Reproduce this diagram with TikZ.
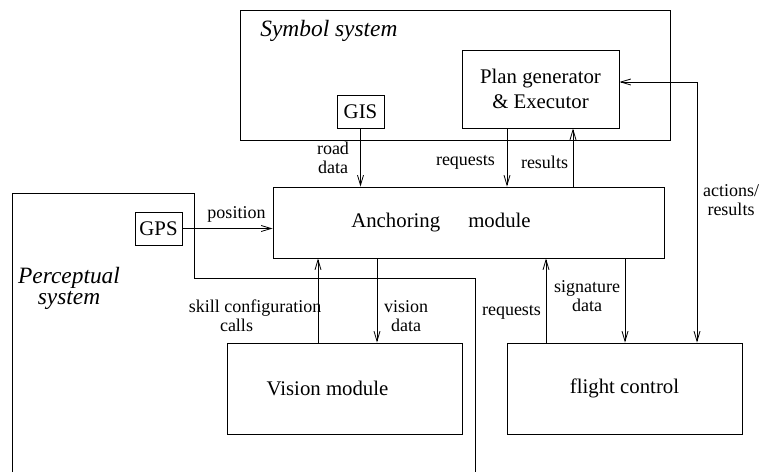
\documentclass[tikz,border=0pt]{standalone}
\usepackage{fontspec}
\setmainfont{Liberation Serif}
\usetikzlibrary{arrows.meta}

\begin{document}
\begin{tikzpicture}[
    x=0.5pt, y=-0.5pt,
    module/.style={
      rectangle, draw, line width=0.45pt, inner sep=1pt, align=center,
      font=\fontsize{10.4}{12.5}\selectfont
    },
    small/.style={module, minimum width=23.5pt, minimum height=16.5pt},
    big/.style={module, minimum width=117.5pt, minimum height=45.5pt},
    system/.style={
      inner sep=0pt, align=center, font=\fontsize{11.7}{10.5}\selectfont\itshape
    },
    lbl/.style={inner sep=0pt, align=center, font=\fontsize{9}{9.5}\selectfont},
    arrow/.style={-{Straight Barb[length=5pt,width=3pt]}, line width=0.4pt},
    twoway/.style={{Straight Barb[length=5pt,width=3pt]}-{Straight Barb[length=5pt,width=3pt]}, line width=0.4pt}
  ]
    \useasboundingbox (0,0) rectangle (760,472);

    \node[module, minimum width=215pt, minimum height=65pt] (symbol) at (455,75) {};
    \node[system, anchor=west] (symlabel) at (260,31) {Symbol system};
    \node[module, minimum width=78.5pt, minimum height=39pt] (plan) at (540.5,89) {Plan generator\\\& Executor};
    \node[small] (gis) at (360.5,111.5) {GIS};
    \node[module, minimum width=195.5pt, minimum height=35.5pt] (anchoring) at (468.5,222.5) {Anchoring\hspace{14pt}module\hspace*{27.5pt}};
    \node[small] (gps) at (158.5,228.5) {GPS};
    \node[big] (vision) at (344.5,388.5) {Vision module\hspace*{17pt}};
    \node[big] (flight) at (624.5,388.5) {flight control};

    \draw[line width=0.45pt] (12,472) |- (194,193) |- (475,278) -- (475,472);
    \node[system] (perclabel) at (69,288) {Perceptual\\system};

    \coordinate (reqdown) at (507,0);
    \coordinate (resup) at (573,0);
    \coordinate (skillup) at (318,0);
    \coordinate (visdown) at (377,0);
    \coordinate (flreq) at (546,0);
    \coordinate (sigdown) at (625,0);
    \coordinate (actbend) at (697,82);

    \draw[arrow] (gis.south) -- (gis.south |- anchoring.north);
    \draw[arrow] (gps.east) -- (gps.east -| anchoring.west);
    \draw[arrow] (plan.south -| reqdown) -- (anchoring.north -| reqdown);
    \draw[arrow] (anchoring.north -| resup) -- (plan.south -| resup);
    \draw[arrow] (vision.north -| skillup) -- (anchoring.south -| skillup);
    \draw[arrow] (anchoring.south -| visdown) -- (vision.north -| visdown);
    \draw[arrow] (flight.north -| flreq) -- (anchoring.south -| flreq);
    \draw[arrow] (anchoring.south -| sigdown) -- (flight.north -| sigdown);
    \draw[twoway] (flight.north -| actbend) |- (plan.east |- actbend);

    \node[lbl] (lposition) at (236.5,214) {position};
    \node[lbl] (lroad) at (333,157.5) {road\\data};
    \node[lbl] (lreqtop) at (465.5,162) {requests};
    \node[lbl] (lresults) at (544.5,162) {results};
    \node[lbl] (lactions) at (731,200) {actions/\\results};
    \node[lbl] (lskill) at (255,316) {skill configuration\\calls\hspace*{18.5pt}};
    \node[lbl] (lvision) at (406,316) {vision\\data};
    \node[lbl] (lreqlow) at (511.5,312) {requests};
    \node[lbl] (lsig) at (587,296.5) {signature\\data};
  \end{tikzpicture}
\end{document}
